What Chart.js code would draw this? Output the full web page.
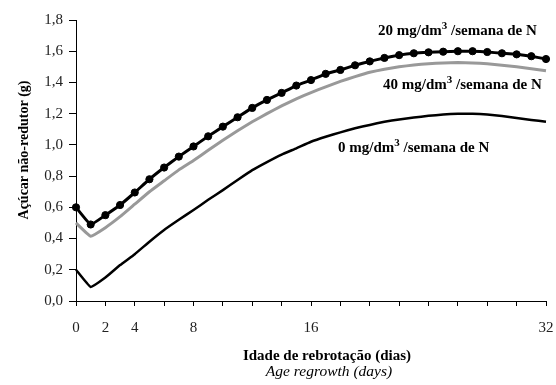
<!DOCTYPE html>
<html>
<head>
<meta charset="utf-8">
<script src="https://cdn.jsdelivr.net/npm/chart.js@4.4.1/dist/chart.umd.min.js"></script>
<style>
  html, body { margin: 0; padding: 0; background: #fff; }
  #wrap { width: 556px; height: 385px; }
</style>
</head>
<body>
<div id="wrap"><canvas id="myChart" width="556" height="385"></canvas></div>
<script>
const dias = [0, 1, 2, 3, 4, 5, 6, 7, 8, 9, 10, 11, 12, 13, 14, 15, 16,
  17, 18, 19, 20, 21, 22, 23, 24, 25, 26, 27, 28, 29, 30, 31, 32];
// 20 mg/dm3/semana de N (com marcadores)
const n20 = [0.60, 0.49, 0.55, 0.615, 0.695, 0.78, 0.855, 0.925, 0.99, 1.055, 1.117, 1.177,
  1.237, 1.288, 1.333, 1.38, 1.415, 1.455, 1.48, 1.51, 1.535, 1.557, 1.575, 1.587, 1.593,
  1.597, 1.60, 1.60, 1.595, 1.587, 1.58, 1.568, 1.55];
// 40 mg/dm3/semana de N (cinza)
const n40 = [0.50, 0.415, 0.47, 0.54, 0.62, 0.70, 0.77, 0.84, 0.90, 0.965, 1.03, 1.09,
  1.148, 1.20, 1.25, 1.295, 1.335, 1.372, 1.407, 1.437, 1.465, 1.485, 1.50, 1.512, 1.52,
  1.525, 1.527, 1.525, 1.52, 1.51, 1.50, 1.488, 1.475];
// 0 mg/dm3/semana de N
const n0 = [0.20, 0.09, 0.15, 0.23, 0.30, 0.38, 0.455, 0.52, 0.583, 0.648, 0.71, 0.775,
  0.838, 0.89, 0.938, 0.978, 1.02, 1.052, 1.08, 1.107, 1.128, 1.148, 1.163, 1.175, 1.186,
  1.195, 1.20, 1.20, 1.195, 1.185, 1.172, 1.16, 1.148];
const xLabels = [0, 2, 4, 8, 16, 32];

const toPts = (ys) => ys.map((y, i) => ({ x: dias[i], y: y }));

const textos = {
  id: "textos",
  afterDraw(chart) {
    const ctx = chart.ctx;
    ctx.save();
    ctx.fillStyle = "#000";
    ctx.textBaseline = "middle";
    // rotulos das curvas
    const rotulo = (num, x, y) => {
      ctx.font = "bold 15px 'Liberation Serif'";
      ctx.textAlign = "left";
      let s = num + " mg/dm";
      ctx.fillText(s, x, y);
      let w = ctx.measureText(s).width;
      ctx.font = "bold 11px 'Liberation Serif'";
      ctx.fillText("3", x + w, y - 5);
      w += ctx.measureText("3").width;
      ctx.font = "bold 15px 'Liberation Serif'";
      ctx.fillText(" /semana de N", x + w, y);
    };
    rotulo("20", 378, 31);
    rotulo("40", 383, 85);
    rotulo("0", 338, 148);
    // titulos eixo x
    ctx.textAlign = "center";
    ctx.font = "bold 15px 'Liberation Serif'";
    ctx.fillText("Idade de rebrotação (dias)", 327, 356);
    ctx.font = "italic 15.5px 'Liberation Serif'";
    ctx.fillText("Age regrowth (days)", 329, 372);
    // titulo eixo y
    ctx.translate(24, 150);
    ctx.rotate(-Math.PI / 2);
    ctx.font = "bold 14px 'Liberation Serif'";
    ctx.fillText("Açúcar não-redutor (g)", 0, 0);
    ctx.restore();
  },
};

new Chart(document.getElementById("myChart"), {
  type: "line",
  data: {
    datasets: [
      {
        label: "0 mg",
        data: toPts(n0),
        borderColor: "#000",
        borderWidth: 2.5,
        pointRadius: 0,
        tension: 0.1,
        clip: false,
      },
      {
        label: "40 mg",
        data: toPts(n40),
        borderColor: "#999",
        borderWidth: 3,
        pointRadius: 0,
        tension: 0.1,
        clip: false,
      },
      {
        label: "20 mg",
        data: toPts(n20),
        borderColor: "#000",
        borderWidth: 3,
        pointRadius: 3.6,
        pointBorderWidth: 1,
        pointBackgroundColor: "#000",
        pointBorderColor: "#000",
        tension: 0.1,
        clip: false,
      },
    ],
  },
  options: {
    responsive: false,
    animation: false,
    layout: { padding: { top: 20, right: 10, left: 0, bottom: 0 } },
    plugins: { legend: { display: false }, tooltip: { enabled: false } },
    scales: {
      x: {
        type: "linear",
        min: 0,
        max: 32,
        ticks: {
          stepSize: 2,
          autoSkip: false,
          maxRotation: 0,
          color: "#222",
          font: { family: "'Liberation Serif'", size: 15, lineHeight: 2.67 },
          padding: 2,
          callback: (v) => (xLabels.includes(v) ? String(v) : ""),
        },
        grid: { drawOnChartArea: false, drawTicks: true, tickLength: 5, color: "#000" },
        border: { display: true, color: "#000", width: 1 },
        afterFit: (s) => { s.height = 84; },
      },
      y: {
        min: 0,
        max: 1.8,
        ticks: {
          stepSize: 0.2,
          color: "#222",
          font: { family: "'Liberation Serif'", size: 15 },
          padding: 6,
          callback: (v) => v.toFixed(1).replace(".", ","),
        },
        grid: { drawOnChartArea: false, drawTicks: true, tickLength: 7, color: "#000" },
        border: { display: true, color: "#000", width: 1 },
        afterFit: (s) => { s.width = 76; },
      },
    },
  },
  plugins: [textos],
});
</script>
</body>
</html>
